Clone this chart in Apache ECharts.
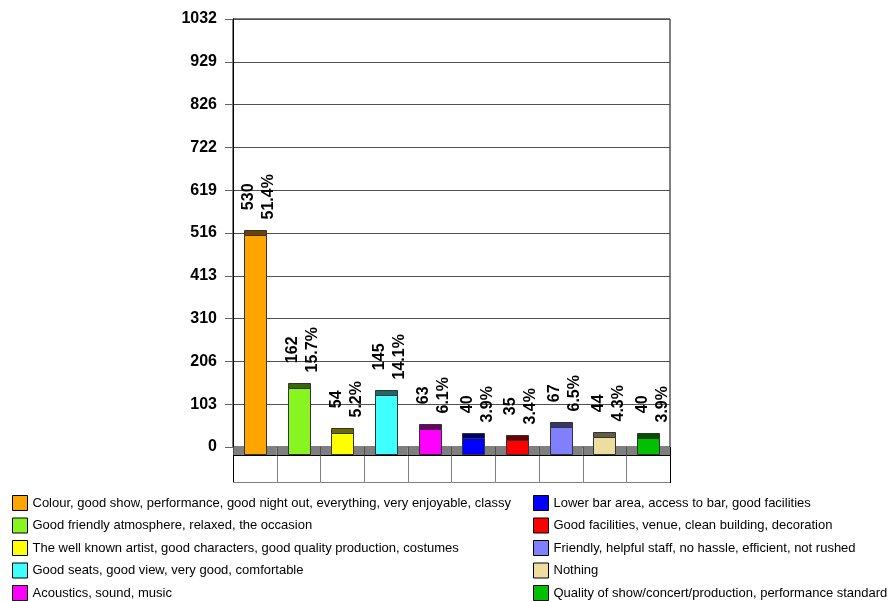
<!DOCTYPE html>
<html>
<head>
<meta charset="utf-8">
<script src="https://cdn.jsdelivr.net/npm/echarts@6/dist/echarts.min.js"></script>
<style>
  html, body { margin: 0; padding: 0; background: #fff; }
  #chart { width: 892px; height: 601px; }
</style>
</head>
<body>
<div id="chart"></div>
<script>
  // data
  var categories = [
    'Colour, good show, performance, good night out, everything, very enjoyable, classy',
    'Good friendly atmosphere, relaxed, the occasion',
    'The well known artist, good characters, good quality production, costumes',
    'Good seats, good view, very good, comfortable',
    'Acoustics, sound, music',
    'Lower bar area, access to bar, good facilities',
    'Good facilities, venue, clean building, decoration',
    'Friendly, helpful staff, no hassle, efficient, not rushed',
    'Nothing',
    'Quality of show/concert/production, performance standard'
  ];
  var counts = [530, 162, 54, 145, 63, 40, 35, 67, 44, 40];
  var percents = ['51.4%', '15.7%', '5.2%', '14.1%', '6.1%', '3.9%', '3.4%', '6.5%', '4.3%', '3.9%'];
  var colors = ['#FFA500', '#88F520', '#FFFF00', '#40FFFF', '#FF00FF', '#0000FF', '#FF0000', '#8080FF', '#EEDDA0', '#00C000'];
  var yMax = 1032;
  var yStep = 103.2;

  var FONT = 'Arial, "Liberation Sans", sans-serif';

  // darker shade for the top of each 3D bar
  function shade(hex, k) {
    var n = parseInt(hex.slice(1), 16);
    var r = Math.round(((n >> 16) & 255) * k);
    var g = Math.round(((n >> 8) & 255) * k);
    var b = Math.round((n & 255) * k);
    return 'rgb(' + r + ',' + g + ',' + b + ')';
  }

  var measureCtx = document.createElement('canvas').getContext('2d');
  measureCtx.font = 'bold 16px ' + FONT;

  function renderBar(params, api) {
    var i = api.value(0);
    var v = api.value(1);
    var base = api.coord([i, 0]);
    var top = api.coord([i, v]);
    var bw = api.size([1, 0])[0];
    var left = base[0] - bw / 2;
    var barW = Math.round(bw * 0.5);
    var x0 = Math.round(base[0] - barW / 2) + 0.5;
    var y0 = Math.round(base[1]);
    var topY = Math.round(top[1]) + 3.5;
    var capH = 5;
    var bottomY = y0 + 7.5;
    var lx = Math.round(left) + 0.5;
    var rx = Math.round(left + bw) + 0.5;
    var last = i === categories.length - 1;

    var children = [
      // floor
      { type: 'rect', shape: { x: left, y: y0, width: bw, height: 8 }, style: { fill: '#7f7f7f' } },
      { type: 'line', shape: { x1: lx, y1: y0, x2: lx, y2: y0 + 8 }, style: { stroke: '#505050', lineWidth: 1 } },
      { type: 'line', shape: { x1: left, y1: y0 + 8.5, x2: left + bw, y2: y0 + 8.5 }, style: { stroke: '#000', lineWidth: 1 } },
      // table under the floor
      { type: 'line', shape: { x1: lx, y1: y0 + 9, x2: lx, y2: y0 + 35 }, style: { stroke: i === 0 ? '#000' : '#808080', lineWidth: 1 } },
      { type: 'line', shape: { x1: left, y1: y0 + 35.5, x2: left + bw, y2: y0 + 35.5 }, style: { stroke: '#808080', lineWidth: 1 } },
      // bar body and top
      { type: 'rect', shape: { x: x0, y: topY + capH, width: barW, height: bottomY - topY - capH },
        style: { fill: colors[i], stroke: '#333', lineWidth: 1 } },
      { type: 'rect', shape: { x: x0, y: topY, width: barW, height: capH },
        style: { fill: shade(colors[i], 0.42), stroke: '#333', lineWidth: 1 } }
    ];
    if (last) {
      children.push({ type: 'line', shape: { x1: rx, y1: y0, x2: rx, y2: y0 + 36 }, style: { stroke: '#000', lineWidth: 1 } });
    }

    var txt = counts[i] + '\n' + percents[i];
    var half = Math.max(measureCtx.measureText(String(counts[i])).width, measureCtx.measureText(percents[i]).width) / 2;
    children.push({
      type: 'text',
      x: base[0] + 4,
      y: topY - 11 - half,
      rotation: Math.PI / 2,
      style: {
        text: txt,
        textAlign: 'center',
        textVerticalAlign: 'middle',
        font: 'bold 16px ' + FONT,
        lineHeight: 20,
        fill: '#000'
      }
    });
    return { type: 'group', children: children };
  }

  var chart = echarts.init(document.getElementById('chart'));

  var legendSeries = categories.map(function (name, i) {
    return { name: name, type: 'bar', data: [], itemStyle: { color: colors[i] } };
  });

  function legendBlock(names, left) {
    return {
      data: names,
      orient: 'vertical',
      left: left,
      top: 495,
      height: 140,
      padding: 0,
      icon: 'rect',
      itemWidth: 15,
      itemHeight: 15,
      itemGap: 6.5,
      selectedMode: false,
      itemStyle: { borderColor: '#000', borderWidth: 1 },
      textStyle: { fontSize: 13, color: '#000', fontFamily: FONT }
    };
  }

  chart.setOption({
    animation: false,
    grid: { left: 233, top: 19, width: 437, height: 428, show: true, borderColor: '#000', borderWidth: 1 },
    legend: [legendBlock(categories.slice(0, 5), 12), legendBlock(categories.slice(5), 533)],
    xAxis: {
      type: 'category',
      data: categories,
      axisLine: { show: false },
      axisTick: { show: false },
      axisLabel: { show: false },
      splitLine: { show: false }
    },
    yAxis: {
      type: 'value',
      min: 0,
      max: yMax,
      interval: yStep,
      axisLine: { show: true, lineStyle: { color: '#000', width: 1 } },
      axisTick: { show: true, length: 8, lineStyle: { color: '#666' } },
      axisLabel: {
        margin: 16,
        color: '#000',
        fontSize: 16,
        fontWeight: 'bold',
        fontFamily: FONT,
        formatter: function (v) { return Math.round(v); }
      },
      splitLine: { show: true, lineStyle: { color: '#505050', width: 1 } }
    },
    series: legendSeries.concat([{
      type: 'custom',
      name: 'bars',
      clip: false,
      renderItem: renderBar,
      encode: { x: 0, y: 1 },
      data: counts.map(function (v, i) { return [i, v]; }),
      z: 3
    }])
  });
</script>
</body>
</html>
